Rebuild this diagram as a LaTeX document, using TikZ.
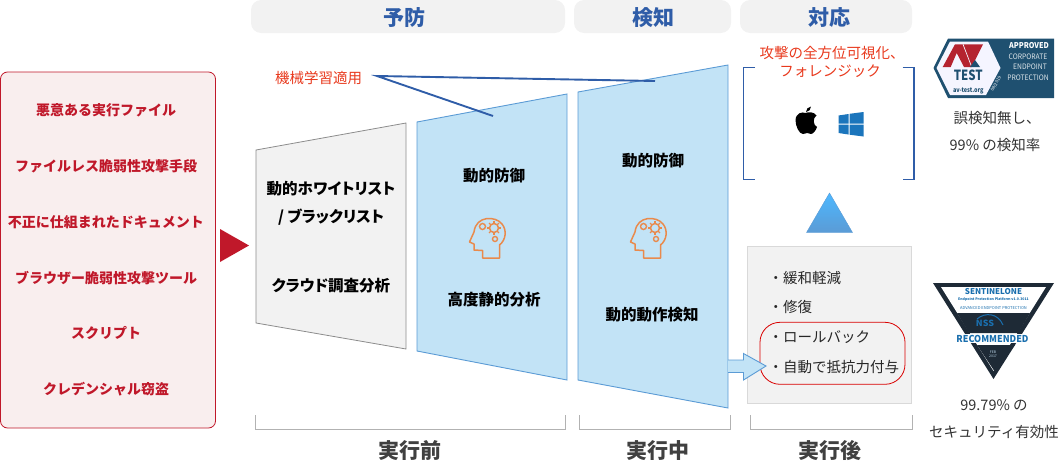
\documentclass[tikz,border=0pt]{standalone}
\usepackage{fontspec}
\setmainfont{Noto Sans CJK JP}
\usetikzlibrary{positioning, calc}

\definecolor{redtxt}{HTML}{C0182A}
\definecolor{orangetxt}{HTML}{E8391D}
\definecolor{headgray}{HTML}{F2F2F2}
\definecolor{panelblue}{HTML}{C2E3F6}
\definecolor{edgeblue}{HTML}{5B9BD5}
\definecolor{linkblue}{HTML}{2F5DA8}
\definecolor{iconorange}{HTML}{E98A4C}
\definecolor{avblue}{HTML}{1F5070}
\definecolor{avred}{HTML}{B5232F}
\definecolor{nssdark}{HTML}{1E2A36}
\definecolor{nssblue}{HTML}{1A6FAE}
\definecolor{winblue}{HTML}{1B75BC}
\definecolor{panelpink}{HTML}{F9EEEE}

\tikzset{
    threat/.style={font=\fontsize{14}{16}\selectfont\bfseries, text=redtxt},
    phase/.style={font=\fontsize{21}{24}\selectfont\bfseries, text=linkblue},
    stage/.style={font=\fontsize{21}{24}\selectfont\bfseries, text=black!75},
    inner/.style={font=\fontsize{15.5}{18}\selectfont\bfseries\addfontfeatures{RawFeature=+palt}, text=black},
    item/.style={font=\fontsize{14.5}{16}\selectfont, text=black!85, anchor=west},
    note/.style={font=\fontsize{14.5}{16}\selectfont, text=orangetxt},
    score/.style={font=\fontsize{14.5}{16}\selectfont, text=black!80},
    logotext/.style={inner sep=0pt},
    headbox/.style={fill=headgray, draw=none, rounded corners=10pt},
    bluepanel/.style={fill=panelblue, draw=edgeblue, line width=0.9pt},
    bracket/.style={draw=black!30, line width=1pt},
    linkline/.style={draw=linkblue, line width=1.9pt},
    headicon/.pic={
        \draw[iconorange, line width=1.5pt, line join=round]
            (-6.5,20) -- (10.5,20) -- (10.5,7) .. controls (17,2) and (18,-8) .. (13,-14)
            .. controls (7,-22) and (-13,-23) .. (-15,-6) -- (-19.5,4) -- (-15,6) -- (-15,12)
            -- (-6.5,12.5) -- cycle;
        \draw[iconorange, line width=1.4pt] (-6.5,-11.5) circle (3);
        \draw[iconorange, line width=1.5pt] (5,-10) circle (4.5);
        \draw[iconorange, line width=1.4pt] (6,1) circle (2.5);
        \foreach \a in {0,45,...,315}
            \draw[iconorange, line width=1.3pt] ($(5,-10)+(\a:4.5)$) -- ($(5,-10)+(\a:7)$);
    }
}

\begin{document}
\begin{tikzpicture}[x=1pt, y=-1pt]
\useasboundingbox (0,0) rectangle (1060,463);

% left panel
\node[draw=redtxt, fill=panelpink, rounded corners=7pt, line width=0.8pt, minimum width=215pt, minimum height=356pt, inner sep=0pt] (threats) at (108,250) {};
\node[threat] (t1) at (106,110) {悪意ある実行ファイル};
\node[threat] (t2) at (106,166) {ファイルレス脆弱性攻撃手段};
\node[threat] (t3) at (106,222) {不正に仕組まれたドキュメント};
\node[threat] (t4) at (106,278) {ブラウザー脆弱性攻撃ツール};
\node[threat] (t5) at (106,333) {スクリプト};
\node[threat] (t6) at (106,389) {クレデンシャル窃盗};
\fill[redtxt] (220,229) -- (249,245.5) -- (220,262) -- cycle;

% headers
\node[headbox, minimum width=314pt, minimum height=33pt] (hprev) at (408,16.5) {};
\node[headbox, minimum width=157pt, minimum height=33pt] (hdet) at (652.5,16.5) {};
\node[headbox, minimum width=172pt, minimum height=33pt] (hresp) at (826,16.5) {};
\node[phase] at (404,18) {予防};
\node[phase] at (653,18) {検知};
\node[phase] at (829,18) {対応};

% panels
\draw[fill=headgray, draw=black!45, line width=0.8pt] (256,150) -- (406,123) -- (406,349) -- (256,323) -- cycle;
\draw[bluepanel] (417,122) -- (567,94) -- (567,380) -- (417,351) -- cycle;
\draw[bluepanel] (578,92) -- (728,65) -- (728,408) -- (578,380) -- cycle;

\node[inner] (wl) at (331,189) {動的ホワイトリスト};
\node[inner] (bl) at (331,217) {/ ブラックリスト};
\node[inner] (cl) at (331,286) {クラウド調査分析};
\node[inner] (dd1) at (494,176) {動的防御};
\node[inner] (st) at (494,300) {高度静的分析};
\node[inner] (dd2) at (653,161) {動的防御};
\node[inner] (bh) at (652,315) {動的動作検知};
\pic at (489,238) {headicon};
\pic at (650,238) {headicon};

% machine learning note
\node[note] (ml) at (318.5,78) {機械学習適用};
\coordinate (mlo) at (377,76);
\coordinate (mla) at (493,116);
\coordinate (mlb) at (655,81);
\draw[linkline] (mla) -- (mlo) -- (mlb);

% response
\node[note] (fo1) at (832,53) {攻撃の全方位可視化、};
\node[note] (fo2) at (830,71) {フォレンジック};
\draw[linkline] (755,67.5) -- (743.5,67.5) -- (743.5,179.5) -- (755,179.5);
\draw[linkline] (902.5,67.5) -- (914,67.5) -- (914,179.5) -- (902.5,179.5);

% apple
\fill[black] (805.5,113) .. controls (802,111.5) and (796,113) .. (795.5,120)
    .. controls (795.5,126) and (799,134) .. (803,134)
    .. controls (805,134) and (806,133) .. (807,133)
    .. controls (808.5,133) and (809.5,134) .. (811,134)
    .. controls (813.5,134) and (816,130) .. (817,127)
    .. controls (813,125) and (812.5,118) .. (816.5,115.5)
    .. controls (814,112) and (809,111.5) .. cycle;
\fill[black] (806,112) .. controls (806,109) and (808,107) .. (811,106.5)
    .. controls (811,109.5) and (809,111.5) .. cycle;
% windows
\fill[winblue] (838.5,115.5) -- (848.5,114) -- (848.5,123.5) -- (838.5,123.5) -- cycle;
\fill[winblue] (849.5,113.8) -- (863.5,112) -- (863.5,123.5) -- (849.5,123.5) -- cycle;
\fill[winblue] (838.5,124.5) -- (848.5,124.5) -- (848.5,134.5) -- (838.5,133) -- cycle;
\fill[winblue] (849.5,124.5) -- (863.5,124.5) -- (863.5,136.5) -- (849.5,134.7) -- cycle;

% triangle
\draw[top color=cyan!60!blue!70, bottom color=edgeblue, draw=edgeblue] (829.5,193) -- (852.5,232.5) -- (806.5,232.5) -- cycle;

% after execution
\node[fill=headgray, draw=black!15, line width=1pt, minimum width=164pt, minimum height=157pt, inner sep=0pt] (afterbox) at (829.7,324.7) {};
\node[draw=red!85!black, rounded corners=20pt, line width=0.8pt, minimum width=145pt, minimum height=62pt, inner sep=0pt] (rollback) at (832.5,353.3) {};
\node[item] (a1) at (765,278) {・緩和軽減};
\node[item] (a2) at (765,307) {・修復};
\node[item] (a3) at (765,337) {・ロールバック};
\node[item] (a4) at (765,367) {・自動で抵抗力付与};
\draw[fill=panelblue, draw=edgeblue, line width=0.9pt] (728,360) -- (743.5,360) -- (743.5,353.5) -- (766,366) -- (743.5,380) -- (743.5,372.5) -- (728,372.5);

% bottom brackets
\draw[bracket] (255.5,415) -- (255.5,429.5) -- (565.5,429.5) -- (565.5,415);
\draw[bracket] (579.5,415) -- (579.5,429.5) -- (730.5,429.5) -- (730.5,415);
\draw[bracket] (750,415) -- (750,429.5) -- (912,429.5) -- (912,415);
\node[stage] at (410,451) {実行前};
\node[stage] at (658,451) {実行中};
\node[stage] at (830,451) {実行後};

% av-test logo
\fill[avblue] (933.5,68) -- (948,38.5) -- (1054,38.5) -- (1054,98) -- (948,98) -- cycle;
\fill[blue!4] (936.5,68) -- (950,41.5) -- (988,41.5) -- (1000.5,68) -- (986,95) -- (950,95) -- cycle;
\fill[avred] (942.7,67) -- (955,44.3) -- (983,44.3) -- (971.7,67) -- (964,67) -- (956.7,53) -- (950.7,67) -- cycle;
\draw[blue!4, line width=0.7pt] (963,44.3) -- (971.7,67);
\fill[avblue] (975,60) -- (980,67) -- (970,67) -- cycle;
\node[logotext, font=\fontsize{14}{15}\selectfont\bfseries, text=avblue, xscale=.82] at (968.3,75.5) {TEST};
\node[logotext, font=\fontsize{6.5}{7}\selectfont\bfseries, text=avblue, xscale=.85] at (968.3,90.5) {av-test.org};
\node[logotext, font=\fontsize{8}{9}\selectfont\bfseries, text=white, xscale=.9] at (1029,46) {APPROVED};
\node[logotext, font=\fontsize{7.5}{9}\selectfont, text=white!85!avblue, xscale=.9] at (1028,57) {CORPORATE};
\node[logotext, font=\fontsize{7.5}{9}\selectfont, text=white!85!avblue, xscale=.9] at (1030,67) {ENDPOINT};
\node[logotext, font=\fontsize{7.5}{9}\selectfont, text=white!85!avblue, xscale=.9] at (1028,78) {PROTECTION};
\node[logotext, font=\fontsize{4.5}{5}\selectfont, text=white, rotate=60] at (996,84) {08/2019};
\node[score] (av1) at (997,118) {誤検知無し、};
\node[score] (av2) at (995,145) {99\% の検知率};

% nss logo
\fill[nssdark] (933,283) -- (1054,283) -- (993.5,379) -- cycle;
\fill[white] (941,287) -- (1046,287) -- (993.5,371) -- cycle;
\fill[nssdark] (957,313) -- (1030,313) -- (1018,333) -- (969,333) -- cycle;
\fill[nssdark] (977,345) -- (1015,345) -- (995,372) -- cycle;
\node[logotext, font=\fontsize{8}{9}\selectfont\bfseries, text=nssblue] at (993.5,292) {SENTINELONE};
\node[logotext, font=\fontsize{3.5}{4}\selectfont\bfseries, text=nssblue] at (993.5,299.5) {Endpoint Protection Platform v1.0.3011};
\node[logotext, font=\fontsize{4}{5}\selectfont, text=nssblue] at (993.5,308) {ADVANCED ENDPOINT PROTECTION};
\node[logotext, font=\fontsize{8.5}{9}\selectfont\bfseries, text=nssblue, xscale=1.05] at (985,323.5) {NSS};
\draw[nssblue, line width=1pt] (977,319) .. controls (985,312) and (998,313) .. (1003,325);
\node[fill=white, inner sep=0.5pt, font=\fontsize{9.5}{10}\selectfont\bfseries, text=nssblue, xscale=.95] at (992.5,338.5) {RECOMMENDED};
\node[logotext, font=\fontsize{3.5}{4}\selectfont, text=white!70!nssblue, align=center] at (993,354.5) {FEB\\2017};
\node[score] (ns1) at (994,405) {99.79\% の};
\node[score] (ns2) at (994,432) {セキュリティ有効性};

\end{tikzpicture}
\end{document}
